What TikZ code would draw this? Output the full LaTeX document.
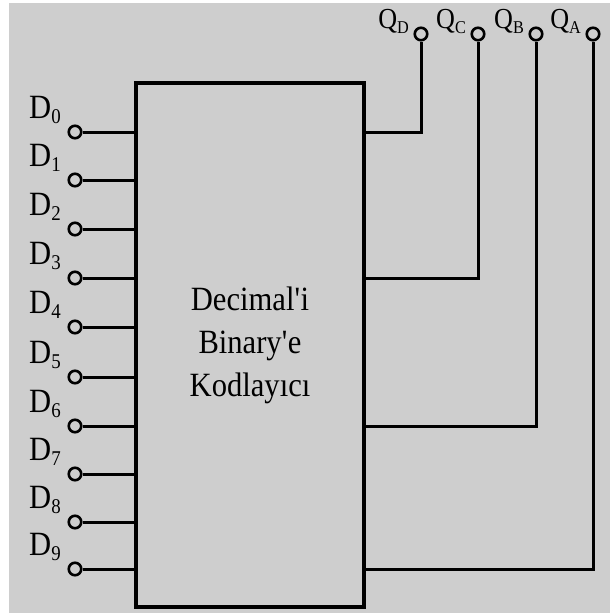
\documentclass[tikz,border=0pt]{standalone}
\usepackage{fontspec}
\setmainfont{Liberation Serif}
\newfontfamily\narrowserif{Liberation Serif}[FakeStretch=0.9]
\begin{document}
\begin{tikzpicture}[x=1pt,y=-1pt,
  pin/.style={circle,draw=black,line width=2.6pt,minimum size=12.5pt,inner sep=0pt},
  wire/.style={line width=3pt},
  encbox/.style={draw=black,line width=3.2pt,minimum width=228pt,minimum height=524pt,align=center,
    font=\narrowserif\fontsize{34}{43}\selectfont},
  dlab/.style={anchor=base west,inner sep=0pt,font=\narrowserif\fontsize{34}{34}\selectfont},
  qlab/.style={anchor=base east,inner sep=0pt,font=\narrowserif\fontsize{29}{29}\selectfont}]
\useasboundingbox (0,0) rectangle (610,613);
\fill[white] (0,0) rectangle (610,613);
\fill[fill={rgb,255:red,206;green,206;blue,206}] (9,3) rectangle (610,613);
\newcommand{\dsub}[1]{\raisebox{-5pt}{\fontsize{21}{21}\selectfont #1}}
\newcommand{\qsub}[1]{\raisebox{-5pt}{\fontsize{18}{18}\selectfont #1}}
% encoder box
\node[encbox] (enc) at (250,345) {Decimal\textquotesingle i\\Binary\textquotesingle e\\Kodlayıcı};
% inputs
\foreach \i/\y in {0/132,1/180,2/229,3/278,4/327,5/377,6/426,7/474,8/522,9/569}{
  \node[pin] (d\i) at (75,\y) {};
  \node[dlab] (dl\i) at (29,\y-14) {D\dsub{\i}};
  \draw[wire] (d\i) -- (d\i -| enc.west);
}
% outputs
\foreach \n/\x in {D/421,C/478,B/536,A/593}{
  \node[pin] (q\n) at (\x,34) {};
  \node[qlab] (ql\n) at (\x-12,28) {Q\qsub{\n}};
}
\draw[wire] (d0 -| enc.east) -| (qD);
\draw[wire] (d3 -| enc.east) -| (qC);
\draw[wire] (d6 -| enc.east) -| (qB);
\draw[wire] (d9 -| enc.east) -| (qA);
\end{tikzpicture}
\end{document}
